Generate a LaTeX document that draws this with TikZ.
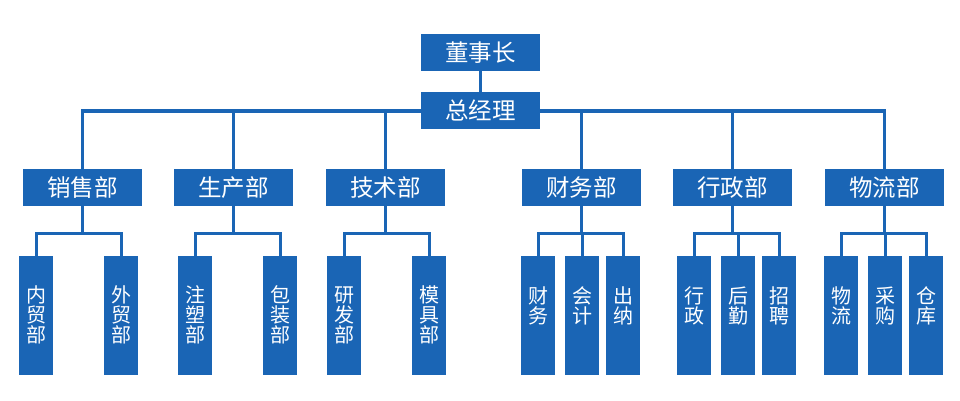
\documentclass[tikz,border=0pt]{standalone}
\usepackage{fontspec}
\newfontfamily\cjk{Noto Sans CJK SC}
\usetikzlibrary{backgrounds}
\definecolor{orgblue}{RGB}{26,101,181}
\begin{document}
\begin{tikzpicture}[x=1pt,y=-1pt,
  topbox/.style={fill=orgblue,text=white,minimum width=119,minimum height=37,inner sep=0,font=\cjk\fontsize{23.5}{24}\selectfont},
  subbox/.style={fill=orgblue,text=white,minimum width=34,minimum height=119,inner sep=0,align=center,font=\cjk\fontsize{20}{20}\selectfont},
  conn/.style={draw=orgblue,line width=3pt}]
\useasboundingbox (0,0) rectangle (960,400);
% top
\node[topbox] (dsz) at (480.5,52.4) {董事长};
\node[topbox] (zjl) at (480.5,110.4) {总经理};
% departments
\node[topbox] (xs) at (82.5,187.4) {销售部};
\node[topbox] (sc) at (233.5,187.4) {生产部};
\node[topbox] (js) at (385.5,187.4) {技术部};
\node[topbox] (cw) at (581.5,187.4) {财务部};
\node[topbox] (xz) at (732.5,187.4) {行政部};
\node[topbox] (wl) at (884.5,187.4) {物流部};
% sub units
\node[subbox] (nm) at (36,315.3) {内\\贸\\部};
\node[subbox] (wm) at (121,315.3) {外\\贸\\部};
\node[subbox] (zs) at (195,315.3) {注\\塑\\部};
\node[subbox] (bz) at (280,315.3) {包\\装\\部};
\node[subbox] (yf) at (344,315.3) {研\\发\\部};
\node[subbox] (mj) at (429,315.3) {模\\具\\部};
\node[subbox] (cw1) at (538,315.3) {财\\务\\\mbox{}};
\node[subbox] (kj) at (582,315.3) {会\\计\\\mbox{}};
\node[subbox] (cn) at (623,315.3) {出\\纳\\\mbox{}};
\node[subbox] (xz1) at (694,315.3) {行\\政\\\mbox{}};
\node[subbox] (hq) at (738,315.3) {后\\勤\\\mbox{}};
\node[subbox] (zp) at (779,315.3) {招\\聘\\\mbox{}};
\node[subbox] (wl1) at (841,315.3) {物\\流\\\mbox{}};
\node[subbox] (cg) at (885,315.3) {采\\购\\\mbox{}};
\node[subbox] (ck) at (926,315.3) {仓\\库\\\mbox{}};
% bus coordinates
\coordinate (busA) at (480,111.7);
\coordinate (busB) at (0,233.3);
\begin{scope}[on background layer]
\draw[conn] (dsz) -- (zjl);
\draw[conn] (xs.north) |- (zjl.west);
\draw[conn] (wl.north) |- (zjl.east);
\draw[conn] (sc.north) -- (sc.north |- busA);
\draw[conn] (js.north) -- (js.north |- busA);
\draw[conn] (cw.north) -- (cw.north |- busA);
\draw[conn] (xz.north) -- (xz.north |- busA);
\draw[conn] (xs.north |- busA) -- (wl.north |- busA);
% groups
\foreach \d/\a/\b in {xs/nm/wm, sc/zs/bz, js/yf/mj, cw/cw1/cn, xz/xz1/zp, wl/wl1/ck}{
  \draw[conn] (\d.south) -- (\d.south |- busB);
  \draw[conn] (\a.north) -- (\a.north |- busB) -- (\b.north |- busB) -- (\b.north);
}
\draw[conn] (kj.north) -- (kj.north |- busB);
\draw[conn] (hq.north) -- (hq.north |- busB);
\draw[conn] (cg.north) -- (cg.north |- busB);
\end{scope}
\end{tikzpicture}
\end{document}
